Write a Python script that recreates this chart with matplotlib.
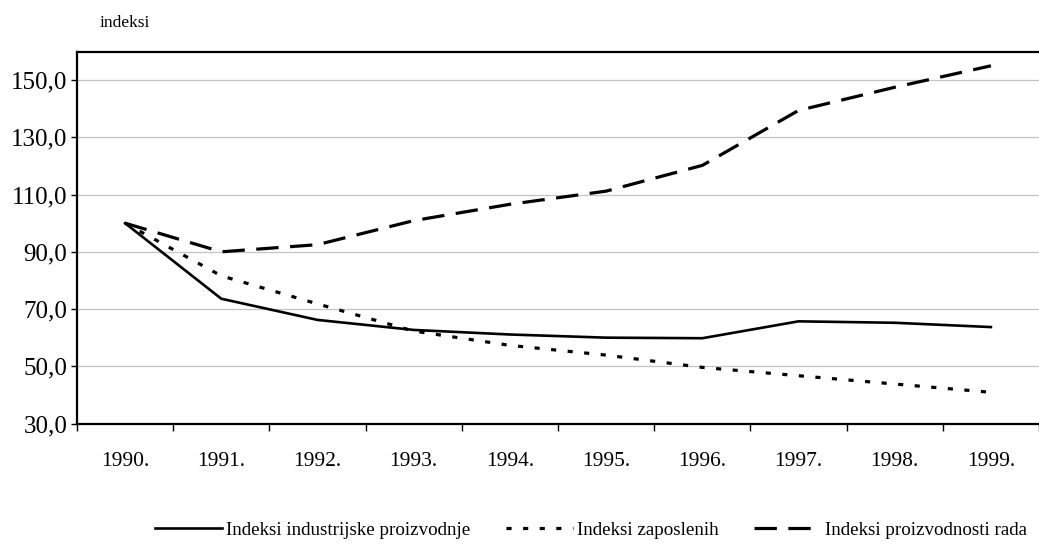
import numpy as np
import matplotlib
matplotlib.use("Agg")
import matplotlib.pyplot as plt
from matplotlib.ticker import FuncFormatter

# data
years = ["1990.", "1991.", "1992.", "1993.", "1994.",
         "1995.", "1996.", "1997.", "1998.", "1999."]
ind_proizvodnje = [100.0, 73.6, 66.2, 62.7, 61.1, 60.0, 59.8, 65.7, 65.2, 63.7]
ind_zaposlenih = [100.0, 81.6, 71.8, 62.3, 57.3, 53.9, 49.6, 46.7, 43.8, 40.9]
ind_proizvodnosti = [100.0, 90.0, 92.5, 100.9, 106.6, 111.2, 120.2, 139.4, 147.5, 155.0]
labels = ["Indeksi industrijske proizvodnje", "Indeksi zaposlenih",
          "Indeksi proizvodnosti rada"]

plt.rcParams["font.family"] = ["Liberation Serif", "DejaVu Serif"]

W, H = 1039, 552
fig = plt.figure(figsize=(W / 100, H / 100), dpi=100)
# axes box in pixels: left 77, bottom at y=423.5, top at y=51.5, right edge cropped
ax = fig.add_axes([77 / W, (H - 423.5) / H, (W - 77) / W, 372 / H])

x = np.arange(len(years))
ax.plot(x, ind_proizvodnje, color="black", lw=1.9, solid_joinstyle="round",
        label=labels[0])
ax.plot(x, ind_zaposlenih, color="black", lw=2.3, linestyle=(0, (1.6, 3.6)),
        dash_capstyle="butt", label=labels[1])
ax.plot(x, ind_proizvodnosti, color="black", lw=2.3, linestyle=(0, (7.0, 3.6)),
        dash_capstyle="butt", label=labels[2])

ax.set_xlim(-0.5, 9.47)
ax.set_ylim(30, 160)

ax.set_yticks(np.arange(30, 151, 20))
ax.yaxis.set_major_formatter(FuncFormatter(lambda v, p: f"{v:.1f}".replace(".", ",")))
ax.tick_params(axis="y", length=4, width=1, pad=3, labelsize=18, direction="out")
for v in np.arange(50, 151, 20):
    ax.axhline(v, color="#c4c4c4", lw=0.9, zorder=0)

# category boundaries get the ticks, years sit between them
ax.set_xticks(np.arange(-0.5, 10, 1))
ax.set_xticklabels([])
ax.set_xticks(x, minor=True)
ax.set_xticklabels(years, minor=True)
ax.tick_params(axis="x", which="major", length=5, width=1, direction="out")
ax.tick_params(axis="x", which="minor", length=0, pad=20.5, labelsize=15.5)

for side in ["left", "bottom", "top"]:
    ax.spines[side].set_linewidth(1.6)
    ax.spines[side].set_color("black")
ax.spines["right"].set_visible(False)

fig.text(100 / W, 1 - 27 / H, "indeksi", fontsize=12.5, va="baseline", ha="left")

fig.legend(loc="center", bbox_to_anchor=(0.569, 1 - 530 / H), ncol=3,
           frameon=False, fontsize=13.7, handlelength=3.5, handletextpad=0.2,
           columnspacing=1.9, borderpad=0.2)

fig.savefig("out.png", dpi=100)
plt.close(fig)
